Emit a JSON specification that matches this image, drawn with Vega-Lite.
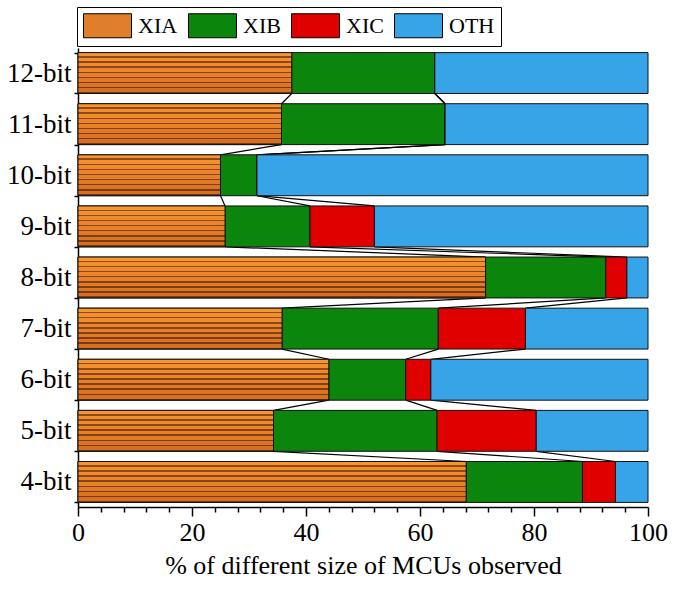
{
  "$schema": "https://vega.github.io/schema/vega-lite/v6.json",
  "width": 570,
  "height": 459,
  "autosize": {"type": "none"},
  "padding": {"left": 78, "top": 48, "right": 36, "bottom": 83},
  "background": "white",
  "config": {
    "view": {"stroke": null},
    "font": "Liberation Serif",
    "axis": {
      "domainColor": "black",
      "domainWidth": 1.5,
      "tickColor": "black",
      "tickWidth": 1.5,
      "labelFont": "Liberation Serif",
      "labelColor": "black",
      "titleFont": "Liberation Serif",
      "titleColor": "black",
      "titleFontWeight": "normal",
      "grid": false
    },
    "axisX": {"labelOverlap": false, "labelFlush": false},
    "legend": {
      "labelFont": "Liberation Serif",
      "labelColor": "black"
    }
  },
  "data": {
    "values": [
      {"bit": "12-bit", "n": 12, "type": "XIA", "rank": 1, "value": 37.5},
      {"bit": "12-bit", "n": 12, "type": "XIB", "rank": 2, "value": 25.1},
      {"bit": "12-bit", "n": 12, "type": "XIC", "rank": 3, "value": 0},
      {"bit": "12-bit", "n": 12, "type": "OTH", "rank": 4, "value": 37.4},
      {"bit": "11-bit", "n": 11, "type": "XIA", "rank": 1, "value": 35.7},
      {"bit": "11-bit", "n": 11, "type": "XIB", "rank": 2, "value": 28.7},
      {"bit": "11-bit", "n": 11, "type": "XIC", "rank": 3, "value": 0},
      {"bit": "11-bit", "n": 11, "type": "OTH", "rank": 4, "value": 35.6},
      {"bit": "10-bit", "n": 10, "type": "XIA", "rank": 1, "value": 25.0},
      {"bit": "10-bit", "n": 10, "type": "XIB", "rank": 2, "value": 6.4},
      {"bit": "10-bit", "n": 10, "type": "XIC", "rank": 3, "value": 0},
      {"bit": "10-bit", "n": 10, "type": "OTH", "rank": 4, "value": 68.6},
      {"bit": "9-bit", "n": 9, "type": "XIA", "rank": 1, "value": 25.8},
      {"bit": "9-bit", "n": 9, "type": "XIB", "rank": 2, "value": 14.9},
      {"bit": "9-bit", "n": 9, "type": "XIC", "rank": 3, "value": 11.3},
      {"bit": "9-bit", "n": 9, "type": "OTH", "rank": 4, "value": 48.0},
      {"bit": "8-bit", "n": 8, "type": "XIA", "rank": 1, "value": 71.5},
      {"bit": "8-bit", "n": 8, "type": "XIB", "rank": 2, "value": 21.1},
      {"bit": "8-bit", "n": 8, "type": "XIC", "rank": 3, "value": 3.7},
      {"bit": "8-bit", "n": 8, "type": "OTH", "rank": 4, "value": 3.7},
      {"bit": "7-bit", "n": 7, "type": "XIA", "rank": 1, "value": 35.8},
      {"bit": "7-bit", "n": 7, "type": "XIB", "rank": 2, "value": 27.4},
      {"bit": "7-bit", "n": 7, "type": "XIC", "rank": 3, "value": 15.3},
      {"bit": "7-bit", "n": 7, "type": "OTH", "rank": 4, "value": 21.5},
      {"bit": "6-bit", "n": 6, "type": "XIA", "rank": 1, "value": 44.0},
      {"bit": "6-bit", "n": 6, "type": "XIB", "rank": 2, "value": 13.5},
      {"bit": "6-bit", "n": 6, "type": "XIC", "rank": 3, "value": 4.4},
      {"bit": "6-bit", "n": 6, "type": "OTH", "rank": 4, "value": 38.1},
      {"bit": "5-bit", "n": 5, "type": "XIA", "rank": 1, "value": 34.3},
      {"bit": "5-bit", "n": 5, "type": "XIB", "rank": 2, "value": 28.7},
      {"bit": "5-bit", "n": 5, "type": "XIC", "rank": 3, "value": 17.4},
      {"bit": "5-bit", "n": 5, "type": "OTH", "rank": 4, "value": 19.6},
      {"bit": "4-bit", "n": 4, "type": "XIA", "rank": 1, "value": 68.1},
      {"bit": "4-bit", "n": 4, "type": "XIB", "rank": 2, "value": 20.4},
      {"bit": "4-bit", "n": 4, "type": "XIC", "rank": 3, "value": 5.8},
      {"bit": "4-bit", "n": 4, "type": "OTH", "rank": 4, "value": 5.7}
    ]
  },
  "transform": [
    {"stack": "value", "groupby": ["bit"], "sort": [{"field": "rank", "order": "ascending"}], "as": ["x0", "x1"]}
  ],
  "layer": [
    {
      "transform": [
        {"filter": "datum.type !== 'OTH'"},
        {"window": [{"op": "lag", "field": "x1", "as": "px"}, {"op": "lag", "field": "bit", "as": "pbit"}],
         "groupby": ["type"], "sort": [{"field": "n", "order": "ascending"}]},
        {"filter": "datum.pbit != null"}
      ],
      "mark": {"type": "rule", "color": "black", "strokeWidth": 1.2},
      "encoding": {
        "x": {"field": "x1", "type": "quantitative", "scale": {"domain": [0, 100], "nice": false},
              "axis": {
                "title": "% of different size of MCUs observed",
                "values": [0, 4, 8, 12, 16, 20, 24, 28, 32, 36, 40, 44, 48, 52, 56, 60, 64, 68, 72, 76, 80, 84, 88, 92, 96, 100],
                "labelExpr": "datum.value % 20 === 0 ? datum.label : ''",
                "labelOverlap": false,
                "labelFlush": false,
                "labelFontSize": 26,
                "labelPadding": 3,
                "tickSize": {"condition": {"test": "datum.value % 20 === 0", "value": 9}, "value": 5},
                "titleFontSize": 26,
                "titlePadding": 7
              }},
        "x2": {"field": "px"},
        "y": {"field": "bit", "type": "nominal", "bandPosition": 1,
              "scale": {"domain": ["12-bit", "11-bit", "10-bit", "9-bit", "8-bit", "7-bit", "6-bit", "5-bit", "4-bit"], "paddingInner": 0.2, "paddingOuter": 0.09},
              "axis": {"title": null, "tickBand": "extent", "tickSize": 4, "labelFontSize": 27, "labelPadding": 3}},
        "y2": {"field": "pbit", "bandPosition": 0}
      }
    },
    {
      "mark": {"type": "bar", "stroke": "#111111", "strokeWidth": 1, "opacity": 1},
      "encoding": {
        "x": {"field": "x0", "type": "quantitative",
              "scale": {"domain": [0, 100], "nice": false},
              "axis": {
                "title": "% of different size of MCUs observed",
                "values": [0, 4, 8, 12, 16, 20, 24, 28, 32, 36, 40, 44, 48, 52, 56, 60, 64, 68, 72, 76, 80, 84, 88, 92, 96, 100],
                "labelExpr": "datum.value % 20 === 0 ? datum.label : ''",
                "labelOverlap": false,
                "labelFlush": false,
                "labelFontSize": 26,
                "labelPadding": 3,
                "tickSize": {"condition": {"test": "datum.value % 20 === 0", "value": 9}, "value": 5},
                "titleFontSize": 26,
                "titlePadding": 7
              }},
        "x2": {"field": "x1"},
        "y": {"field": "bit", "type": "nominal",
              "scale": {"domain": ["12-bit", "11-bit", "10-bit", "9-bit", "8-bit", "7-bit", "6-bit", "5-bit", "4-bit"], "paddingInner": 0.2, "paddingOuter": 0.09},
              "axis": {"title": null, "tickBand": "extent", "tickSize": 4, "labelFontSize": 27, "labelPadding": 3}},
        "color": {
          "field": "type", "type": "nominal",
          "scale": {
            "domain": ["XIA", "XIB", "XIC", "OTH"],
            "range": ["#E07E2A", "#0C850C", "#E00000", "#38A4E8"]
          },
          "legend": {
            "title": null,
            "orient": "none",
            "legendX": -1,
            "legendY": -41,
            "direction": "horizontal",
            "columns": 4,
            "padding": 6,
            "strokeColor": "black",
            "fillColor": "white",
            "symbolType": "M-1,-1H3V1H-1Z",
            "symbolSize": 576,
            "symbolStrokeColor": "black",
            "symbolStrokeWidth": 1,
            "symbolOpacity": 1,
            "labelFontSize": 22,
            "labelOffset": 30,
            "columnPadding": 8
          }
        }
      }
    },
    {
      "transform": [{"filter": "datum.type === 'XIA'"}],
      "mark": {
        "type": "bar", "stroke": "#111111", "strokeWidth": 1, "opacity": 1,
        "fill": {"gradient": "linear", "x1": 0, "y1": 0, "x2": 0, "y2": 1, "stops": [
          {"offset": 0, "color": "#F7962F"}, {"offset": 0.088, "color": "#F7962F"},
          {"offset": 0.088, "color": "#8E4A1E"}, {"offset": 0.125, "color": "#8E4A1E"},
          {"offset": 0.125, "color": "#F4902C"}, {"offset": 0.213, "color": "#F4902C"},
          {"offset": 0.213, "color": "#8E4A1E"}, {"offset": 0.25, "color": "#8E4A1E"},
          {"offset": 0.25, "color": "#F08A2A"}, {"offset": 0.338, "color": "#F08A2A"},
          {"offset": 0.338, "color": "#8A461C"}, {"offset": 0.375, "color": "#8A461C"},
          {"offset": 0.375, "color": "#EC8528"}, {"offset": 0.463, "color": "#EC8528"},
          {"offset": 0.463, "color": "#86431B"}, {"offset": 0.5, "color": "#86431B"},
          {"offset": 0.5, "color": "#E88026"}, {"offset": 0.588, "color": "#E88026"},
          {"offset": 0.588, "color": "#82401A"}, {"offset": 0.625, "color": "#82401A"},
          {"offset": 0.625, "color": "#E27A24"}, {"offset": 0.713, "color": "#E27A24"},
          {"offset": 0.713, "color": "#7E3D19"}, {"offset": 0.75, "color": "#7E3D19"},
          {"offset": 0.75, "color": "#DC7422"}, {"offset": 0.838, "color": "#DC7422"},
          {"offset": 0.838, "color": "#7A3A18"}, {"offset": 0.875, "color": "#7A3A18"},
          {"offset": 0.875, "color": "#D66F20"}, {"offset": 0.963, "color": "#D66F20"},
          {"offset": 0.963, "color": "#763717"}, {"offset": 1, "color": "#763717"}
        ]}
      },
      "encoding": {
        "x": {"field": "x0", "type": "quantitative", "scale": {"domain": [0, 100], "nice": false},
              "axis": {
                "title": "% of different size of MCUs observed",
                "values": [0, 4, 8, 12, 16, 20, 24, 28, 32, 36, 40, 44, 48, 52, 56, 60, 64, 68, 72, 76, 80, 84, 88, 92, 96, 100],
                "labelExpr": "datum.value % 20 === 0 ? datum.label : ''",
                "labelOverlap": false,
                "labelFlush": false,
                "labelFontSize": 26,
                "labelPadding": 3,
                "tickSize": {"condition": {"test": "datum.value % 20 === 0", "value": 9}, "value": 5},
                "titleFontSize": 26,
                "titlePadding": 7
              }},
        "x2": {"field": "x1"},
        "y": {"field": "bit", "type": "nominal",
              "scale": {"domain": ["12-bit", "11-bit", "10-bit", "9-bit", "8-bit", "7-bit", "6-bit", "5-bit", "4-bit"], "paddingInner": 0.2, "paddingOuter": 0.09},
              "axis": {"title": null, "tickBand": "extent", "tickSize": 4, "labelFontSize": 27, "labelPadding": 3}}
      }
    }
  ]
}
